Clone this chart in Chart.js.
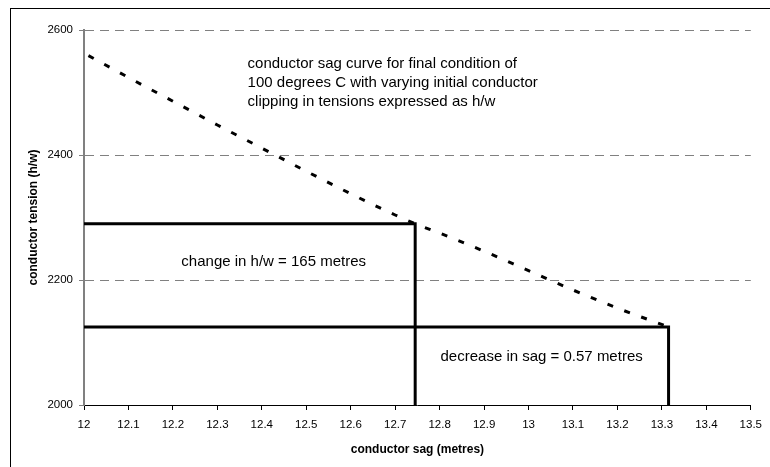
<!DOCTYPE html>
<html>
<head>
<meta charset="utf-8">
<script src="https://cdn.jsdelivr.net/npm/chart.js@4/dist/chart.umd.min.js"></script>
<style>
  html, body { margin: 0; padding: 0; background: #ffffff; }
  #wrap { position: relative; width: 770px; height: 467px; }
</style>
</head>
<body>
<div id="wrap"><canvas id="chart" width="770" height="467"></canvas></div>
<script>
// Sag curve: conductor sag (m) against tension h/w for the 100 °C final condition
const sagCurveX = [12.01, 12.1, 12.2, 12.3, 12.4, 12.5, 12.6, 12.7, 12.745, 12.8, 12.9, 13.0, 13.1, 13.2, 13.315];
const sagCurveY = [2559, 2524, 2486, 2448, 2411, 2374, 2338, 2304, 2290, 2275, 2246, 2215, 2184, 2155, 2125];

// Initial and final operating points
const initialSag = 12.745;
const finalSag = 13.315;
const initialTension = 2290;
const finalTension = 2125;

// Axis ticks
const xTicks = [12, 12.1, 12.2, 12.3, 12.4, 12.5, 12.6, 12.7, 12.8, 12.9, 13, 13.1, 13.2, 13.3, 13.4, 13.5];
const yTicks = [2000, 2200, 2400, 2600];

// Text notes placed on the plot
const notes = [
  { lines: ['conductor sag curve for final condition of',
            '100 degrees C with varying initial conductor',
            'clipping in tensions expressed as h/w'], x: 12.368, y: 2546 },
  { lines: ['change in h/w = 165 metres'], x: 12.219, y: 2229 },
  { lines: ['decrease in sag = 0.57 metres'], x: 12.802, y: 2077 }
];

const xMin = xTicks[0], xMax = xTicks[xTicks.length - 1];
const yMin = yTicks[0], yMax = yTicks[yTicks.length - 1];

const curvePoints = sagCurveX.map((x, i) => ({ x: x, y: sagCurveY[i] }));
const initialLines = [
  { x: xMin, y: initialTension }, { x: initialSag, y: initialTension }, { x: initialSag, y: yMin }
];
const finalLines = [
  { x: xMin, y: finalTension }, { x: finalSag, y: finalTension }, { x: finalSag, y: yMin }
];

const FONT = "'Liberation Sans', Arial, sans-serif";

// Outer frame of the chart
const framePlugin = {
  id: 'frame',
  beforeDraw(chart) {
    const ctx = chart.ctx;
    ctx.save();
    ctx.fillStyle = '#ffffff';
    ctx.fillRect(0, 0, chart.width, chart.height);
    ctx.strokeStyle = '#000000';
    ctx.lineWidth = 1;
    ctx.strokeRect(10.5, 8.5, chart.width + 20, chart.height + 20);
    ctx.restore();
  }
};

// Free text notes, positioned in data coordinates
const notesPlugin = {
  id: 'notes',
  afterDatasetsDraw(chart) {
    const ctx = chart.ctx;
    const xs = chart.scales.x, ys = chart.scales.y;
    ctx.save();
    ctx.fillStyle = '#000000';
    ctx.font = '15px ' + FONT;
    ctx.textAlign = 'left';
    ctx.textBaseline = 'middle';
    notes.forEach(n => {
      const px = xs.getPixelForValue(n.x);
      const py = ys.getPixelForValue(n.y);
      n.lines.forEach((t, i) => ctx.fillText(t, px, py + i * 19));
    });
    ctx.restore();
  }
};

new Chart(document.getElementById('chart'), {
  type: 'line',
  data: {
    datasets: [
      {
        label: 'initial',
        data: initialLines,
        borderColor: '#000000',
        borderWidth: 3,
        pointRadius: 0,
        tension: 0,
        fill: false
      },
      {
        label: 'final',
        data: finalLines,
        borderColor: '#000000',
        borderWidth: 3,
        pointRadius: 0,
        tension: 0,
        fill: false
      },
      {
        label: 'sag curve',
        data: curvePoints,
        borderColor: '#000000',
        borderWidth: 3,
        borderDash: [6, 12],
        borderCapStyle: 'butt',
        pointRadius: 0,
        cubicInterpolationMode: 'monotone',
        fill: false
      }
    ]
  },
  options: {
    responsive: false,
    animation: false,
    layout: { padding: { left: 0, top: 30, right: 17, bottom: 0 } },
    plugins: {
      legend: { display: false },
      tooltip: { enabled: false }
    },
    scales: {
      x: {
        type: 'linear',
        min: xMin,
        max: xMax,
        afterBuildTicks(scale) { scale.ticks = xTicks.map(v => ({ value: v })); },
        afterFit(scale) { scale.height = 62; },
        ticks: {
          color: '#000000',
          font: { family: FONT, size: 11.5 },
          padding: 8,
          maxRotation: 0,
          autoSkip: false,
          callback: v => String(Math.round(v * 10) / 10)
        },
        grid: {
          drawOnChartArea: false,
          drawTicks: true,
          tickLength: 5,
          tickColor: '#000000',
          color: '#000000'
        },
        border: { color: '#000000', width: 1 },
        title: {
          display: true,
          text: 'conductor sag (metres)',
          color: '#000000',
          font: { family: FONT, size: 12, weight: 'bold' },
          padding: { top: 0, bottom: 10 }
        }
      },
      y: {
        type: 'linear',
        min: yMin,
        max: yMax,
        afterBuildTicks(scale) { scale.ticks = yTicks.map(v => ({ value: v })); },
        afterFit(scale) { scale.width = 84; },
        ticks: {
          color: '#000000',
          font: { family: FONT, size: 11.5 },
          padding: 6,
          autoSkip: false,
          callback: v => String(v)
        },
        grid: {
          color: ctx => (ctx.tick && ctx.tick.value === yMin) ? 'rgba(0,0,0,0)' : '#808080',
          lineWidth: 1,
          drawTicks: true,
          tickLength: 5,
          tickColor: '#808080'
        },
        border: { color: '#808080', width: 2, dash: [9, 6] },
        title: {
          display: true,
          text: 'conductor tension (h/w)',
          color: '#000000',
          font: { family: FONT, size: 12, weight: 'bold' },
          padding: { top: 26, bottom: 0 }
        }
      }
    }
  },
  plugins: [framePlugin, notesPlugin]
});
</script>
</body>
</html>
